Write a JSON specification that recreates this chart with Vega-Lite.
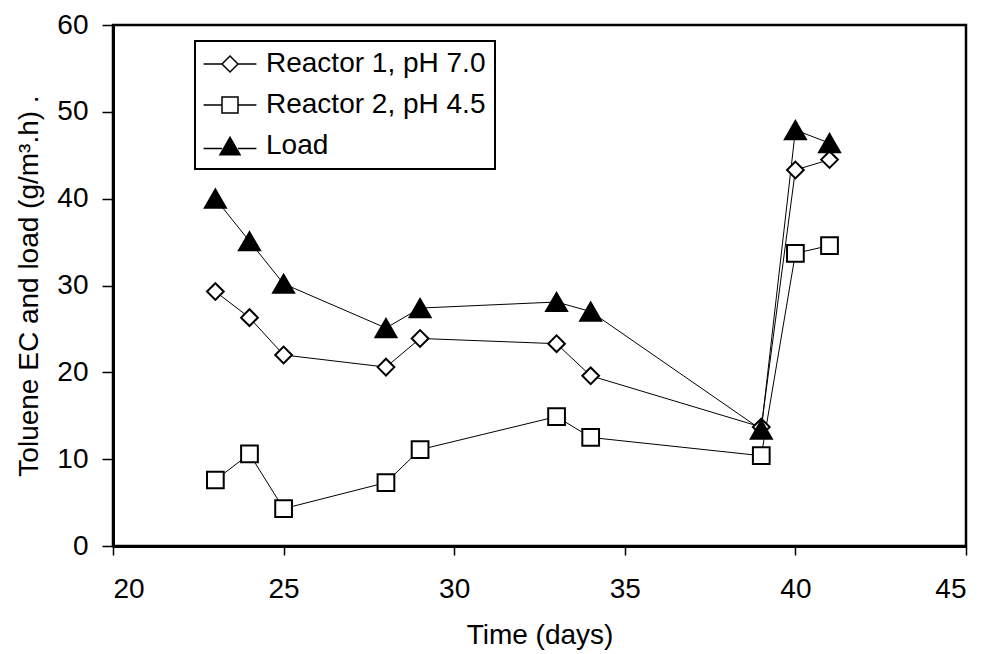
{
  "$schema": "https://vega.github.io/schema/vega-lite/v6.json",
  "width": 853,
  "height": 521,
  "autosize": {"type": "none"},
  "padding": {"left": 113, "top": 25, "right": 18, "bottom": 108},
  "background": "white",
  "config": {
    "font": "Liberation Sans",
    "view": {"stroke": "black", "strokeWidth": 2.5},
    "legend": {"strokeColor": "black", "strokeWidth": 2},
    "axis": {
      "grid": false,
      "domainColor": "black",
      "domainWidth": 3,
      "tickColor": "black",
      "tickWidth": 1.5,
      "labelColor": "black",
      "labelFont": "Liberation Sans",
      "labelFontSize": 28,
      "titleFont": "Liberation Sans",
      "titleFontSize": 28,
      "titleFontWeight": "normal",
      "titleColor": "black"
    }
  },
  "data": {
    "values": [
      {"day": 23, "value": 29.3, "series": "Reactor 1, pH 7.0"},
      {"day": 24, "value": 26.3, "series": "Reactor 1, pH 7.0"},
      {"day": 25, "value": 22.0, "series": "Reactor 1, pH 7.0"},
      {"day": 28, "value": 20.6, "series": "Reactor 1, pH 7.0"},
      {"day": 29, "value": 23.9, "series": "Reactor 1, pH 7.0"},
      {"day": 33, "value": 23.3, "series": "Reactor 1, pH 7.0"},
      {"day": 34, "value": 19.6, "series": "Reactor 1, pH 7.0"},
      {"day": 39, "value": 13.7, "series": "Reactor 1, pH 7.0"},
      {"day": 40, "value": 43.3, "series": "Reactor 1, pH 7.0"},
      {"day": 41, "value": 44.5, "series": "Reactor 1, pH 7.0"},
      {"day": 23, "value": 7.6, "series": "Reactor 2, pH 4.5"},
      {"day": 24, "value": 10.6, "series": "Reactor 2, pH 4.5"},
      {"day": 25, "value": 4.3, "series": "Reactor 2, pH 4.5"},
      {"day": 28, "value": 7.3, "series": "Reactor 2, pH 4.5"},
      {"day": 29, "value": 11.1, "series": "Reactor 2, pH 4.5"},
      {"day": 33, "value": 14.9, "series": "Reactor 2, pH 4.5"},
      {"day": 34, "value": 12.5, "series": "Reactor 2, pH 4.5"},
      {"day": 39, "value": 10.4, "series": "Reactor 2, pH 4.5"},
      {"day": 40, "value": 33.7, "series": "Reactor 2, pH 4.5"},
      {"day": 41, "value": 34.6, "series": "Reactor 2, pH 4.5"},
      {"day": 23, "value": 40.0, "series": "Load"},
      {"day": 24, "value": 35.1, "series": "Load"},
      {"day": 25, "value": 30.2, "series": "Load"},
      {"day": 28, "value": 25.1, "series": "Load"},
      {"day": 29, "value": 27.4, "series": "Load"},
      {"day": 33, "value": 28.1, "series": "Load"},
      {"day": 34, "value": 27.0, "series": "Load"},
      {"day": 39, "value": 13.4, "series": "Load"},
      {"day": 40, "value": 47.9, "series": "Load"},
      {"day": 41, "value": 46.4, "series": "Load"}
    ]
  },
  "encoding": {
    "x": {
      "field": "day",
      "type": "quantitative",
      "scale": {"domain": [20, 45], "nice": false, "zero": false},
      "axis": {
        "title": "Time (days)",
        "values": [20, 25, 30, 35, 40, 45],
        "tickSize": 9,
        "labelPadding": 20,
        "titlePadding": 18
      }
    },
    "y": {
      "field": "value",
      "type": "quantitative",
      "scale": {"domain": [0, 60], "nice": false},
      "axis": {
        "title": "Toluene EC and load (g/m³.h) .",
        "values": [0, 10, 20, 30, 40, 50, 60],
        "tickSize": 11,
        "labelPadding": 14,
        "titlePadding": 13
      }
    }
  },
  "layer": [
    {
      "mark": {"type": "line", "stroke": "black", "strokeWidth": 1},
      "encoding": {"detail": {"field": "series"}}
    },
    {
      "mark": {"type": "point", "filled": true, "stroke": "black", "strokeWidth": 2, "opacity": 1},
      "encoding": {
        "shape": {
          "field": "series",
          "type": "nominal",
          "scale": {
            "domain": ["Reactor 1, pH 7.0", "Reactor 2, pH 4.5", "Load"],
            "range": ["diamond", "square", "triangle-up"]
          },
          "legend": null
        },
        "fill": {
          "condition": {"test": "datum.series === 'Load'", "value": "black"},
          "value": "white"
        },
        "size": {
          "condition": {"test": "datum.series === 'Load'", "value": 440},
          "value": 280
        }
      }
    },
    {
      "transform": [{"filter": "datum.day > 1000"}],
      "mark": {"type": "point", "filled": false, "stroke": "black", "strokeWidth": 1.5, "opacity": 1, "size": 256},
      "encoding": {
        "shape": {
          "field": "series",
          "type": "nominal",
          "scale": {
            "domain": ["Reactor 1, pH 7.0", "Reactor 2, pH 4.5", "Load"],
            "range": [
              "M-1,0L0,-1L1,0L0,1Z M-3.3,0H-1 M1,0H3.3",
              "M-1,-1H1V1H-1Z M-3.3,0H-1 M1,0H3.3",
              "M0,-1.08L-1.25,1.08L1.25,1.08Z M0,-0.918L-1.0625,0.918L1.0625,0.918Z M0,-0.756L-0.875,0.756L0.875,0.756Z M0,-0.594L-0.6875,0.594L0.6875,0.594Z M0,-0.432L-0.5,0.432L0.5,0.432Z M0,-0.27L-0.3125,0.27L0.3125,0.27Z M0,-0.108L-0.125,0.108L0.125,0.108Z M-3.3,0.3H-1 M1,0.3H3.3"
            ]
          },
          "legend": {
            "title": null,
            "orient": "none",
            "legendX": 82,
            "legendY": 16,
            "direction": "vertical",
            "columns": 1,
            "fillColor": "white",
            "padding": 9,
            "rowPadding": 13,
            "symbolSize": 256,
            "symbolStrokeWidth": 1.5,
            "symbolStrokeColor": "black",
            "symbolFillColor": "white",
            "symbolOffset": 12,
            "labelOffset": 22,
            "labelFontSize": 28,
            "labelFont": "Liberation Sans",
            "labelColor": "black",
            "labelLimit": 500
          }
        }
      }
    }
  ],
  "resolve": {"scale": {"shape": "independent"}}
}
